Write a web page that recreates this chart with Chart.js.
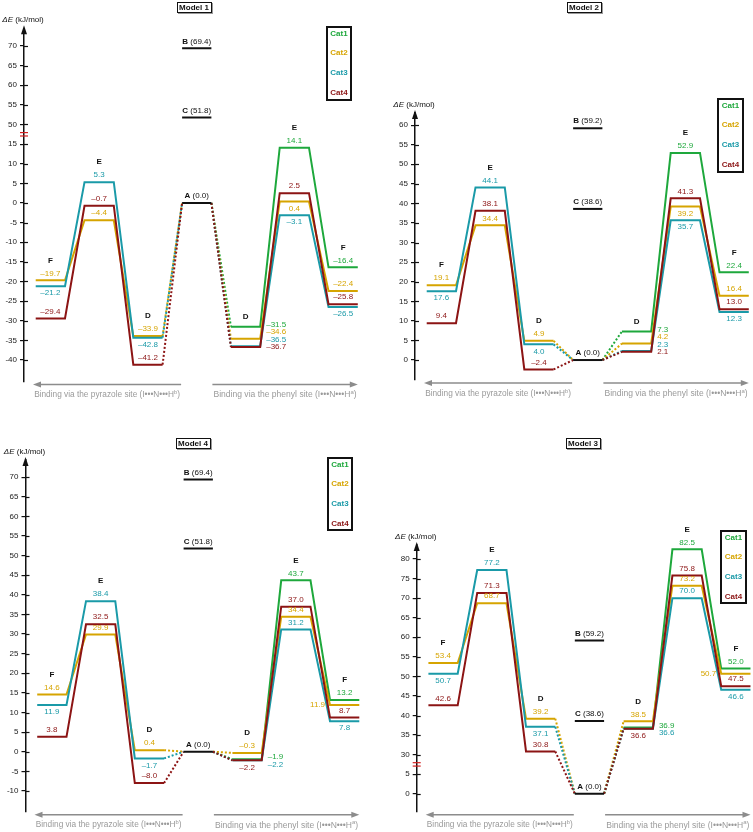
<!DOCTYPE html>
<html>
<head>
<meta charset="utf-8">
<script src="https://cdn.jsdelivr.net/npm/chart.js@4.4.0/dist/chart.umd.min.js"></script>
<style>
  body { margin: 0; background: #fff; }
  #wrap { position: relative; width: 753px; height: 832px; }
  canvas { position: absolute; }
</style>
</head>
<body>
<div id="wrap">
  <canvas id="m1" width="376" height="416" style="left:0;top:0"></canvas>
  <canvas id="m2" width="376" height="416" style="left:377px;top:0"></canvas>
  <canvas id="m4" width="376" height="416" style="left:0;top:416px"></canvas>
  <canvas id="m3" width="376" height="416" style="left:377px;top:416px"></canvas>
</div>
<script>
// states along the path: F E D (pyrazole side) | A | D E F (phenyl side)
var stateNames = ["F", "E", "D", "A", "D", "E", "F"];
var catNames = ["Cat1", "Cat2", "Cat3", "Cat4"];
var catColors = ["#1ea83c", "#d6a400", "#1a9aa8", "#8c1414"];

// Model 1 (kJ/mol)
var m1Cat1 = [null, null, null, 0, -31.5, 14.1, -16.4];
var m1Cat2 = [-19.7, -4.4, -33.9, 0, -34.6, 0.4, -22.4];
var m1Cat3 = [-21.2, 5.3, -42.8, 0, -36.5, -3.1, -26.5];
var m1Cat4 = [-29.4, -0.7, -41.2, 0, -36.7, 2.5, -25.8];
var m1Cat3DrawnAt = { 2: -34.3 }; // figure draws this level near -34 although labelled -42.8
var m1B = 69.4, m1C = 51.8;
var m1Ticks = [-40, -35, -30, -25, -20, -15, -10, -5, 0, 5, 10, 15, 50, 55, 60, 65, 70];

// Model 2
var m2Cat1 = [null, null, null, 0, 7.3, 52.9, 22.4];
var m2Cat2 = [19.1, 34.4, 4.9, 0, 4.2, 39.2, 16.4];
var m2Cat3 = [17.6, 44.1, 4.0, 0, 2.3, 35.7, 12.3];
var m2Cat4 = [9.4, 38.1, -2.4, 0, 2.1, 41.3, 13.0];
var m2B = 59.2, m2C = 38.6;
var m2Ticks = [0, 5, 10, 15, 20, 25, 30, 35, 40, 45, 50, 55, 60];

// Model 4
var m4Cat1 = [null, null, null, 0, -1.9, 43.7, 13.2];
var m4Cat2 = [14.6, 29.9, 0.4, 0, -0.3, 34.4, 11.9];
var m4Cat3 = [11.9, 38.4, -1.7, 0, -2.2, 31.2, 7.8];
var m4Cat4 = [3.8, 32.5, -8.0, 0, -2.2, 37.0, 8.7];
var m4B = 69.4, m4C = 51.8;
var m4Ticks = [-10, -5, 0, 5, 10, 15, 20, 25, 30, 35, 40, 45, 50, 55, 60, 65, 70];

// Model 3
var m3Cat1 = [null, null, null, 0, 36.9, 82.5, 52.0];
var m3Cat2 = [53.4, 68.7, 39.2, 0, 38.5, 73.2, 50.7];
var m3Cat3 = [50.7, 77.2, 37.1, 0, 36.6, 70.0, 46.6];
var m3Cat4 = [42.6, 71.3, 30.8, 0, 36.6, 75.8, 47.5];
var m3B = 59.2, m3C = 38.6;
var m3Ticks = [0, 5, 30, 35, 40, 45, 50, 55, 60, 65, 70, 75, 80];

var FF = '"Liberation Sans", Arial, Helvetica, sans-serif';
function f(size, style) { return (style ? style + " " : "") + size + "px " + FF; }
function fmt(v) { return (v < 0 ? "\u2013" : "") + Math.abs(v).toFixed(1); }

function txt(ctx, s, x, y, font, color, align) {
  ctx.font = font;
  ctx.fillStyle = color;
  ctx.textAlign = align || "center";
  ctx.textBaseline = "middle";
  ctx.fillText(s, x, y);
}

function mixed(ctx, parts, cx, cy, color) {
  var total = 0;
  parts.forEach(function (p) { ctx.font = p[1]; total += ctx.measureText(p[0]).width; });
  var x = cx - total / 2;
  ctx.textAlign = "left";
  ctx.textBaseline = "middle";
  ctx.fillStyle = color;
  parts.forEach(function (p) {
    ctx.font = p[1];
    ctx.fillText(p[0], x, cy);
    x += ctx.measureText(p[0]).width;
  });
}

function siteText(ctx, pre, sup, post, cx, cy, target) {
  ctx.font = f(8); var w = ctx.measureText(pre).width + ctx.measureText(post).width;
  ctx.font = f(5.6); w += ctx.measureText(sup).width;
  var s = 8 * target / w;
  ctx.font = f(s); var w1 = ctx.measureText(pre).width, w3 = ctx.measureText(post).width;
  ctx.font = f(s * 0.7); var w2 = ctx.measureText(sup).width;
  var x = cx - (w1 + w2 + w3) / 2;
  ctx.fillStyle = "#9a9a9a";
  ctx.textAlign = "left";
  ctx.textBaseline = "middle";
  ctx.font = f(s); ctx.fillText(pre, x, cy);
  ctx.font = f(s * 0.7); ctx.fillText(sup, x + w1, cy - s * 0.3);
  ctx.font = f(s); ctx.fillText(post, x + w1 + w2, cy);
}

function line(ctx, x0, y0, x1, y1) {
  ctx.beginPath(); ctx.moveTo(x0, y0); ctx.lineTo(x1, y1); ctx.stroke();
}

function makeOverlay(cfg) {
  return {
    id: "overlay",
    afterDraw: function (chart) {
      var ctx = chart.ctx, xs = chart.scales.x, ys = chart.scales.y, area = chart.chartArea;
      var ax = area.left;
      function px0(i) { return xs.getPixelForValue(cfg.X[i]); }
      function px1(i) { return xs.getPixelForValue(cfg.X[i] + cfg.W); }
      function py(v) { return ys.getPixelForValue(cfg.disp(v)); }
      ctx.save();

      // inner half of the tick marks
      ctx.strokeStyle = "#111"; ctx.lineWidth = 1.2;
      cfg.ticks.forEach(function (t) {
        var y = Math.round(py(t)) + 0.5;
        line(ctx, ax, y, ax + 4, y);
      });
      // arrow head
      ctx.fillStyle = "#111";
      ctx.beginPath();
      ctx.moveTo(ax, area.top - 3); ctx.lineTo(ax - 3, area.top + 6); ctx.lineTo(ax + 3, area.top + 6);
      ctx.closePath(); ctx.fill();
      // axis break
      if (cfg.cut) {
        var yb = ys.getPixelForValue(cfg.cut.mark);
        ctx.strokeStyle = "#d42020"; ctx.lineWidth = 1.2;
        line(ctx, ax - 4, yb - 1.7, ax + 4, yb - 1.7);
        line(ctx, ax - 4, yb + 1.7, ax + 4, yb + 1.7);
      }
      mixed(ctx, [["\u0394E", f(8, "italic")], [" (kJ/mol)", f(8)]], ax - 1, area.top - 8.5, "#111");

      // title box
      ctx.font = f(8, "bold");
      var tw = ctx.measureText(cfg.title).width;
      var bx = Math.round(cfg.titleX - tw / 2 - 2.5), by = Math.round(cfg.titleY - 5.5), bw = Math.round(tw + 5), bh = 11;
      ctx.fillStyle = "#999"; ctx.fillRect(bx + 1, by + 1, bw, bh);
      ctx.fillStyle = "#fff"; ctx.fillRect(bx, by, bw, bh);
      ctx.strokeStyle = "#111"; ctx.lineWidth = 1; ctx.strokeRect(bx + 0.5, by + 0.5, bw - 1, bh - 1);
      txt(ctx, cfg.title, cfg.titleX, cfg.titleY + 0.5, f(8, "bold"), "#111");

      // legend box
      var L = cfg.legend;
      ctx.strokeStyle = "#111"; ctx.lineWidth = 2;
      ctx.strokeRect(L.x, L.y, L.w, L.h);
      catNames.forEach(function (n, k) {
        txt(ctx, n, L.x + L.w / 2, L.y + 6.5 + k * 19.7, f(8, "bold"), catColors[k]);
      });

      // reference levels A, B, C
      [[0, "A"], [cfg.B, "B"], [cfg.C, "C"]].forEach(function (p) {
        mixed(ctx, [[p[1], f(8, "bold")], [" (" + p[0].toFixed(1) + ")", f(8)]],
          (px0(3) + px1(3)) / 2, py(p[0]) - 7, "#111");
      });

      // value labels
      var stacks = {};
      cfg.series.forEach(function (vals, k) {
        var over = cfg.drawnAt[k] || {};
        vals.forEach(function (v, i) {
          if (v === null || i === 3) return;
          var p = cfg.place[k][i];
          var y = py(over[i] !== undefined ? over[i] : v);
          var x0 = px0(i), x1 = px1(i), s = fmt(v), col = catColors[k], font = f(8);
          if (p === "a") txt(ctx, s, (x0 + x1) / 2, y - 7, font, col);
          else if (p === "b") txt(ctx, s, (x0 + x1) / 2, y + 7, font, col);
          else if (p === "l") txt(ctx, s, x0 - 5, y, font, col, "right");
          else if (p === "r") {
            var st = stacks[i] || (stacks[i] = { y: y - 2, n: 0 });
            txt(ctx, s, x1 + 6, st.y + st.n * 7.5, font, col, "left");
            st.n++;
          }
        });
      });

      // state letters
      [0, 1, 2, 4, 5, 6].forEach(function (i) {
        var top = null, topPlace = "a";
        cfg.series.forEach(function (vals, k) {
          if (vals[i] === null) return;
          var over = cfg.drawnAt[k] || {};
          var y = py(over[i] !== undefined ? over[i] : vals[i]);
          if (top === null || y < top) { top = y; topPlace = cfg.place[k][i]; }
        });
        if (top === null) return;
        txt(ctx, stateNames[i], (px0(i) + px1(i)) / 2, top - (topPlace === "r" ? 10 : 20), f(8, "bold"), "#111");
      });

      // site arrows
      var ay = area.bottom + 3;
      ctx.strokeStyle = "#8c8c8c"; ctx.fillStyle = "#8c8c8c"; ctx.lineWidth = 1.5;
      var la = ax + 9, lb = px0(3) - 1;
      line(ctx, la + 5, ay, lb, ay);
      ctx.beginPath(); ctx.moveTo(la, ay); ctx.lineTo(la + 8, ay - 3); ctx.lineTo(la + 8, ay + 3); ctx.closePath(); ctx.fill();
      var ra = px1(3) + 1, rb = px1(6);
      line(ctx, ra, ay, rb - 5, ay);
      ctx.beginPath(); ctx.moveTo(rb, ay); ctx.lineTo(rb - 8, ay - 3); ctx.lineTo(rb - 8, ay + 3); ctx.closePath(); ctx.fill();
      siteText(ctx, "Binding via the pyrazole site (I\u2022\u2022\u2022N\u2022\u2022\u2022H", "b", ")", (la + lb) / 2, ay + 10.5, lb - la - 2);
      siteText(ctx, "Binding via the phenyl site (I\u2022\u2022\u2022N\u2022\u2022\u2022H", "a", ")", (ra + rb) / 2, ay + 10.5, rb - ra - 2);

      ctx.restore();
    }
  };
}

function makePanel(cfg) {
  var X = [0, 1, 2, 3, 4, 5, 6].map(function (i) { return i + 0.24; });
  var W = 0.6;
  cfg.X = X; cfg.W = W;
  cfg.disp = function (v) { return cfg.cut && v >= cfg.cut.at ? v - cfg.cut.shift : v; };

  var datasets = [];
  cfg.series.forEach(function (vals, k) {
    var over = cfg.drawnAt[k] || {};
    var pts = [];
    vals.forEach(function (v, i) {
      if (v === null) return;
      var y = cfg.disp(over[i] !== undefined ? over[i] : v);
      pts.push({ x: X[i], y: y, s: i }, { x: X[i] + W, y: y, s: i });
    });
    datasets.push({
      label: catNames[k],
      data: pts,
      borderColor: catColors[k],
      borderWidth: 2,
      pointRadius: 0,
      tension: 0,
      fill: false,
      order: 4 - k,
      segment: {
        borderColor: function (c) {
          var a = pts[c.p0DataIndex].s, b = pts[c.p1DataIndex].s;
          return a === 3 && b === 3 ? "rgba(0,0,0,0)" : undefined;
        },
        borderDash: function (c) {
          var a = pts[c.p0DataIndex].s, b = pts[c.p1DataIndex].s;
          return (a === 3) !== (b === 3) ? [2, 2] : undefined;
        }
      }
    });
  });
  [0, cfg.B, cfg.C].forEach(function (v) {
    datasets.push({
      data: [{ x: X[3], y: cfg.disp(v) }, { x: X[3] + W, y: cfg.disp(v) }],
      borderColor: "#111", borderWidth: 2, pointRadius: 0, order: 0
    });
  });

  new Chart(document.getElementById(cfg.id), {
    type: "line",
    data: { datasets: datasets },
    options: {
      responsive: false,
      animation: false,
      events: [],
      layout: { padding: { top: cfg.padTop, bottom: cfg.padBottom, left: 0, right: 0 } },
      plugins: { legend: { display: false }, tooltip: { enabled: false } },
      scales: {
        x: { type: "linear", display: false, min: 0, max: (376 - cfg.axisX) / 48.8 },
        y: {
          type: "linear",
          min: cfg.ymin,
          max: cfg.ymax,
          afterFit: function (s) { s.width = cfg.axisX; },
          afterBuildTicks: function (s) {
            s.ticks = cfg.ticks.map(function (t) { return { value: cfg.disp(t) }; });
          },
          ticks: {
            callback: function (val, idx) { return String(cfg.ticks[idx]); },
            font: { family: FF, size: 8 },
            color: "#222",
            padding: 3
          },
          grid: { drawOnChartArea: false, tickLength: 4, color: "#111", lineWidth: 1.2 },
          border: { color: "#111", width: 1.5 }
        }
      }
    },
    plugins: [makeOverlay(cfg)]
  });
}

makePanel({
  id: "m1", title: "Model 1", titleX: 194, titleY: 7,
  axisX: 24, padTop: 28.3, padBottom: 34.4, ymin: -45.5, ymax: 44.5,
  ticks: m1Ticks, cut: { at: 50, shift: 30, mark: 17.5 },
  series: [m1Cat1, m1Cat2, m1Cat3, m1Cat4], drawnAt: [null, null, m1Cat3DrawnAt, null],
  B: m1B, C: m1C,
  place: ["----raa", "aaa-rba", "bab-rbb", "aaa-raa"],
  legend: { x: 327, y: 27, w: 24, h: 73 }
});

makePanel({
  id: "m2", title: "Model 2", titleX: 207, titleY: 7,
  axisX: 38, padTop: 113, padBottom: 36, ymin: -5.1, ymax: 63.1,
  ticks: m2Ticks, cut: null,
  series: [m2Cat1, m2Cat2, m2Cat3, m2Cat4], drawnAt: [null, null, null, null],
  B: m2B, C: m2C,
  place: ["----raa", "aaa-rba", "bab-rbb", "aaa-raa"],
  legend: { x: 341, y: 99, w: 25, h: 73 }
});

makePanel({
  id: "m4", title: "Model 4", titleX: 193, titleY: 27,
  axisX: 25.5, padTop: 44, padBottom: 20.3, ymin: -15.3, ymax: 74.4,
  ticks: m4Ticks, cut: null,
  series: [m4Cat1, m4Cat2, m4Cat3, m4Cat4], drawnAt: [null, null, null, null],
  B: m4B, C: m4C,
  place: ["----raa", "aaa-aal", "bab-rab", "aaa-baa"],
  legend: { x: 328, y: 42, w: 24, h: 72 }
});

makePanel({
  id: "m3", title: "Model 3", titleX: 206, titleY: 27,
  axisX: 39.7, padTop: 129, padBottom: 20.3, ymin: -4.6, ymax: 63.6,
  ticks: m3Ticks, cut: { at: 30, shift: 20, mark: 7.5 },
  series: [m3Cat1, m3Cat2, m3Cat3, m3Cat4], drawnAt: [null, null, null, null],
  B: m3B, C: m3C,
  place: ["----raa", "aaa-aal", "bab-rab", "aaa-baa"],
  legend: { x: 344, y: 115, w: 25, h: 72 }
});
</script>
</body>
</html>
